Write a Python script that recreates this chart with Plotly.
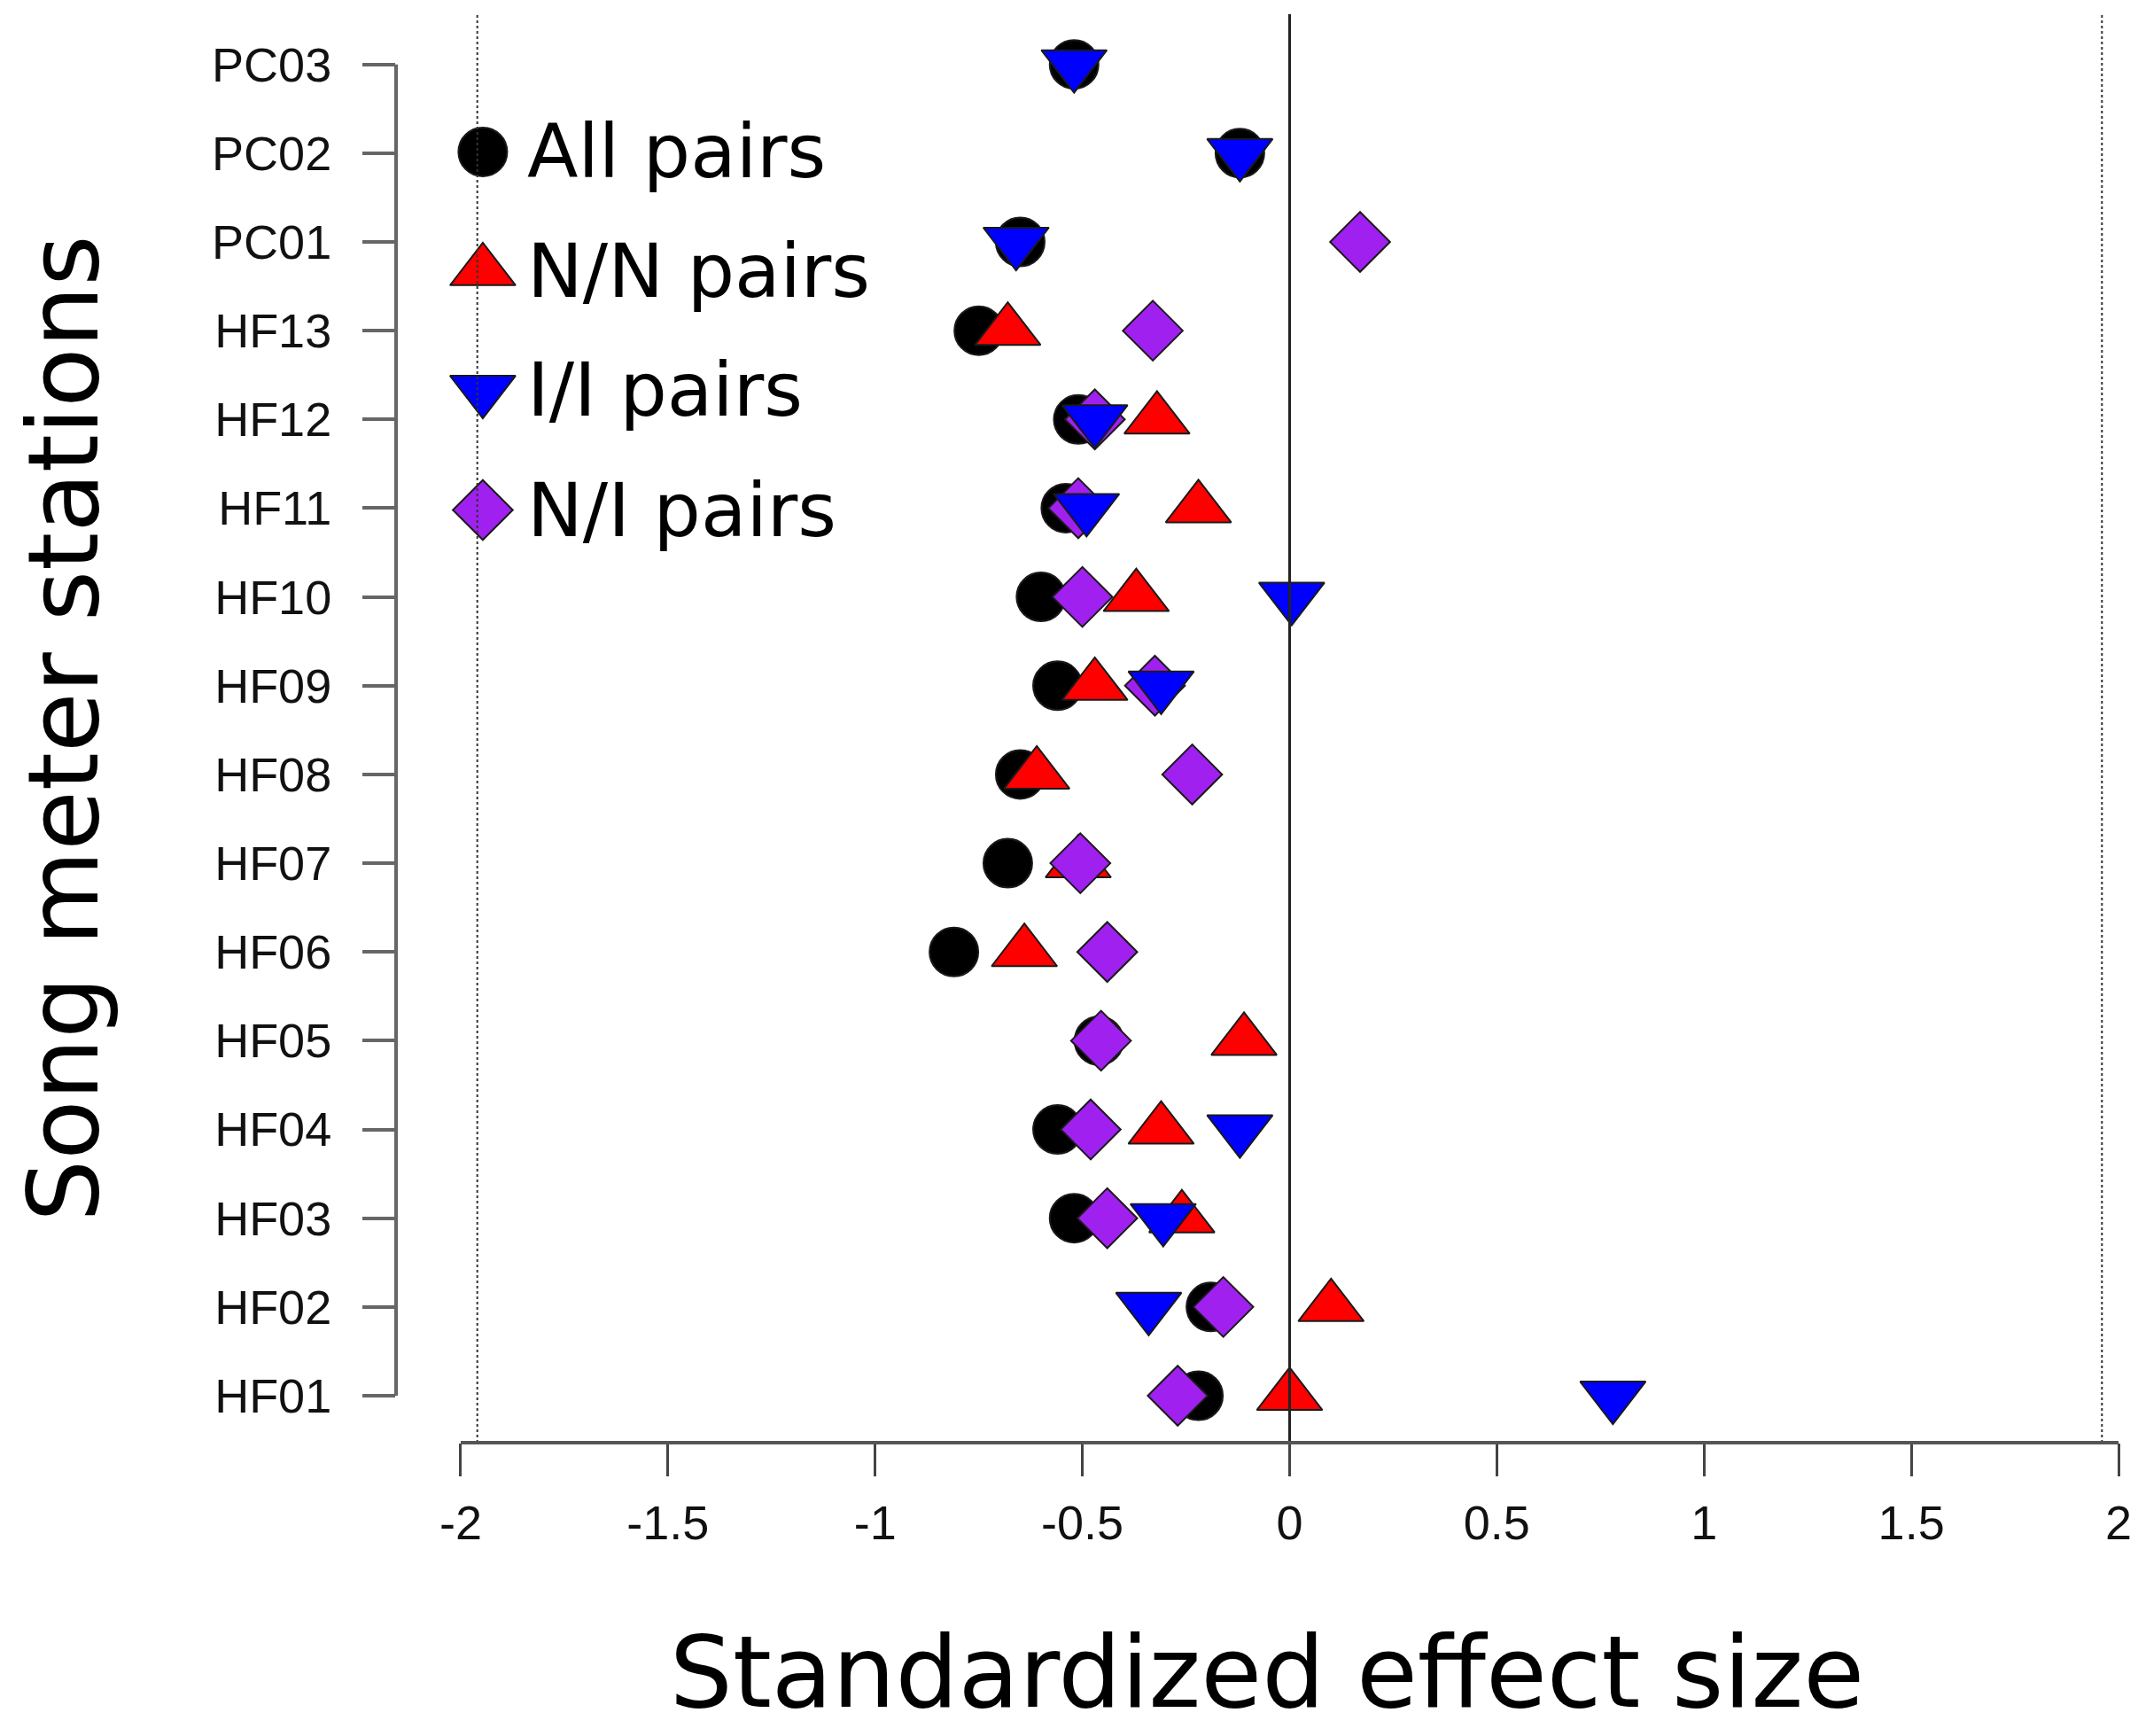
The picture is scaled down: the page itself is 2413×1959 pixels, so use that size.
import plotly.graph_objects as go

stations = ["HF01", "HF02", "HF03", "HF04", "HF05", "HF06", "HF07", "HF08",
            "HF09", "HF10", "HF11", "HF12", "HF13", "PC01", "PC02", "PC03"]

all_pairs = [-0.22, -0.19, -0.52, -0.56, -0.46, -0.81, -0.68, -0.65,
             -0.56, -0.60, -0.54, -0.51, -0.75, -0.65, -0.12, -0.52]
nn_pairs = [0.00, 0.10, -0.26, -0.31, -0.11, -0.64, -0.51, -0.61,
            -0.47, -0.37, -0.22, -0.32, -0.68, None, None, None]
ii_pairs = [0.78, -0.34, -0.305, -0.12, None, None, None, None,
            -0.31, 0.005, -0.49, -0.47, None, -0.66, -0.12, -0.52]
ni_pairs = [-0.27, -0.16, -0.44, -0.48, -0.455, -0.44, -0.505, -0.235,
            -0.325, -0.50, -0.51, -0.47, -0.33, 0.17, None, None]

xtick_vals = [-2, -1.5, -1, -0.5, 0, 0.5, 1, 1.5, 2]
xtick_text = ["-2", "-1.5", "-1", "-0.5", "0", "0.5", "1", "1.5", "2"]

legend_names = ["All pairs", "N/N pairs", "I/I pairs", "N/I pairs"]

styles = {
    "All pairs": dict(symbol="circle", color="#000000", size=55),
    "N/N pairs": dict(symbol="triangle-up", color="#FF0000", size=64),
    "I/I pairs": dict(symbol="triangle-down", color="#0000FF", size=64),
    "N/I pairs": dict(symbol="diamond", color="#A020F0", size=52),
}
series = {"All pairs": all_pairs, "N/N pairs": nn_pairs,
          "I/I pairs": ii_pairs, "N/I pairs": ni_pairs}
draw_order = ["All pairs", "N/N pairs", "N/I pairs", "I/I pairs"]

fig = go.Figure()
for name in draw_order:
    st = styles[name]
    fig.add_trace(go.Scatter(
        x=series[name], y=stations, mode="markers", name=name,
        showlegend=False, cliponaxis=False,
        marker=dict(symbol=st["symbol"], color=st["color"], size=st["size"],
                    line=dict(color="#1a1a1a", width=2)),
    ))

# hand-built legend on an overlay axis (paper-like 0..1 coordinates)
leg_x = 0.0498
leg_y = [0.9036, 0.8202, 0.7369, 0.6529]
for name, ly in zip(legend_names, leg_y):
    st = styles[name]
    fig.add_trace(go.Scatter(
        x=[leg_x], y=[ly], mode="markers", name=name, showlegend=False,
        xaxis="x2", yaxis="y2", cliponaxis=False,
        marker=dict(symbol=st["symbol"], color=st["color"], size=st["size"],
                    line=dict(color="#1a1a1a", width=2)),
    ))
    fig.add_annotation(x=0.0743, y=ly, xref="x2", yref="y2", text=name,
                       showarrow=False, xanchor="left", yanchor="middle",
                       font=dict(family="DejaVu Sans", size=84, color="#000000"))

shapes = [
    dict(type="line", xref="x", yref="paper", x0=-1.96, x1=-1.96, y0=0, y1=1,
         line=dict(color="#333333", width=2, dash="dot")),
    dict(type="line", xref="x", yref="paper", x0=1.96, x1=1.96, y0=0, y1=1,
         line=dict(color="#333333", width=2, dash="dot")),
    dict(type="line", xref="x", yref="paper", x0=0, x1=0, y0=0, y1=1,
         line=dict(color="#222222", width=3)),
    dict(type="line", xref="x", yref="paper", x0=-2, x1=2, y0=0, y1=0,
         line=dict(color="#555555", width=4)),
    dict(type="line", xref="paper", yref="y", x0=0, x1=0, y0=0, y1=15,
         line=dict(color="#666666", width=4)),
]

fig.update_layout(
    width=2405, height=1951,
    margin=dict(l=439, r=0, t=8, b=331),
    paper_bgcolor="white", plot_bgcolor="white",
    showlegend=False,
    shapes=shapes,
    xaxis=dict(
        range=[-2.156, 2.047], showgrid=False, zeroline=False, showline=False,
        tickmode="array", tickvals=xtick_vals, ticktext=xtick_text,
        ticks="outside", ticklen=37, tickwidth=3, tickcolor="#444444",
        tickfont=dict(family="Liberation Sans", size=54, color="#111111"),
        ticklabelstandoff=6,
        title=dict(text="Standardized effect size", standoff=100,
                   font=dict(family="DejaVu Sans", size=112, color="#000000")),
    ),
    yaxis=dict(
        type="category", categoryorder="array", categoryarray=stations,
        range=[-0.529, 15.566], showgrid=False, zeroline=False, showline=False,
        ticks="outside", ticklen=37, tickwidth=4, tickcolor="#666666",
        tickfont=dict(family="Liberation Sans", size=54, color="#111111"),
        ticklabelstandoff=24,
        title=dict(text="Song meter stations", standoff=134,
                   font=dict(family="DejaVu Sans", size=110, color="#000000")),
    ),
    xaxis2=dict(overlaying="x", range=[0, 1], visible=False, fixedrange=True),
    yaxis2=dict(overlaying="y", range=[0, 1], visible=False, fixedrange=True),
)

fig.write_html("out.html")
